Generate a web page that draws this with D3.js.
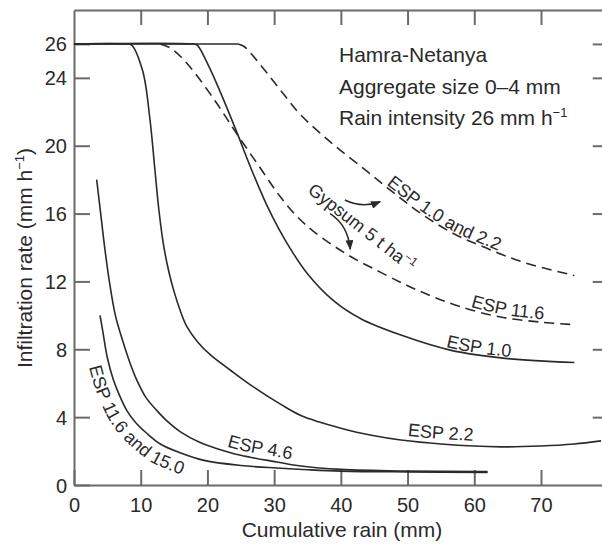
<!DOCTYPE html>
<html><head><meta charset="utf-8">
<script src="https://cdn.jsdelivr.net/npm/d3@7"></script>
<style>
body{margin:0;background:#fff}
svg{display:block;font-family:"Liberation Sans",Arial,Helvetica,sans-serif}
</style>
</head><body>
<svg id="chart" width="602" height="544"></svg>
<script>
// ---------- data ----------
const xTicks = [0, 10, 20, 30, 40, 50, 60, 70];
const yTicks = [0, 4, 8, 12, 16, 20, 24, 26];
const plateau = [[0, 26], [24.6, 26]];
const esp116and150 = [[3.9,10.0],[4.3,9.1],[5.0,7.5],[5.9,6.2],[6.8,5.3],[7.9,4.4],[9.2,3.7],[10.9,3.05],[13,2.4],[15.9,1.9],[19.5,1.45],[25,1.15],[30.4,1.0],[35,0.9],[40,0.82],[50,0.77],[62,0.74]];
const esp46 = [[3.4,18.0],[4.0,16.0],[4.6,14.0],[5.3,12.0],[6.2,10.0],[7.3,8.5],[8.3,7.3],[9.4,6.2],[10.8,5.15],[12.4,4.4],[14,3.75],[15.9,3.15],[18.9,2.5],[21,2.2],[25,1.75],[30.4,1.36],[34,1.12],[40,0.92],[50,0.82],[62,0.79]];
const esp22 = [[0,26],[7.8,26],[8.6,25.95],[10.3,24.4],[11.4,21.5],[12.1,18.7],[12.7,16.3],[13.4,14.2],[14.2,12.6],[15.0,11.4],[16.0,10.2],[16.9,9.35],[18.5,8.45],[20.5,7.65],[23.5,6.75],[27,5.75],[31,4.75],[34,4.1],[40,3.35],[45,2.9],[49,2.65],[55,2.42],[64,2.25],[70,2.3],[75,2.42],[79,2.6]];
const esp10 = [[0,26],[17.6,26],[18.4,25.95],[20,24.85],[22,23.1],[24.4,20.8],[26.6,18.6],[28.9,16.5],[30.7,15.1],[32.4,13.95],[34.9,12.5],[38.8,10.9],[43,9.8],[48.9,8.85],[56.4,7.95],[65,7.45],[75,7.22]];
const gypEsp116 = [[12.9,26],[14.5,25.75],[16,25.25],[17.9,24.4],[21.4,22.5],[24.4,20.7],[27.9,18.7],[30.9,17.0],[33.5,15.8],[35.9,14.95],[40.9,13.6],[45.9,12.55],[50,11.75],[53.8,11.1],[58,10.5],[63.9,9.9],[70,9.6],[75,9.45]];
const gypEsp10and22 = [[24.6,26],[25.5,25.85],[26.5,25.45],[28.9,24.3],[31.5,23.0],[33.9,21.85],[38.8,20.1],[43.9,18.5],[48,17.2],[52.2,15.95],[57,14.8],[61.9,13.95],[67.6,13.1],[75,12.35]];
const arrowToUpper = [[40.6,16.8],[43.2,16.3],[45.9,16.7]];
const arrowToLower = [[38.4,16.0],[41.1,15.3],[41.4,13.9]];
const infoLines = ["Hamra-Netanya", "Aggregate size 0\u20134 mm", "Rain intensity 26 mm h"];

// ---------- setup ----------
const svg = d3.select("#chart");
const x = d3.scaleLinear().domain([0, 80]).range([74, 607.7]);
const y = d3.scaleLinear().domain([0, 28]).range([485, 10]);
const ink = "#2a2a2a", frame = "#6a6a6a";

const defs = svg.append("defs");
defs.append("marker").attr("id", "ah").attr("viewBox", "0 0 10 8")
  .attr("refX", 9).attr("refY", 4).attr("markerWidth", 11).attr("markerHeight", 8)
  .attr("markerUnits", "userSpaceOnUse").attr("orient", "auto")
  .append("path").attr("d", "M0,0 L10,4 L0,8 Z").attr("fill", ink);

// ---------- axes ----------
function styleAxis(g) {
  g.selectAll(".domain").attr("stroke", frame).attr("stroke-width", 2);
  g.selectAll(".tick line").attr("stroke", frame).attr("stroke-width", 2);
  g.selectAll(".tick text").attr("fill", ink).style("font-size", "20px")
    .style("font-family", '"Liberation Sans",Arial,sans-serif');
}
svg.append("g").attr("transform", "translate(0,485)")
  .call(d3.axisBottom(x).tickValues(xTicks).tickSizeInner(-15).tickSizeOuter(0).tickPadding(13).tickFormat(d3.format("d")))
  .call(styleAxis);
svg.append("g").attr("transform", "translate(0,10)")
  .call(d3.axisTop(x).tickValues(xTicks.slice(1)).tickSizeInner(-15).tickSizeOuter(0).tickFormat(""))
  .call(styleAxis);
const yAxisG = svg.append("g").attr("transform", "translate(74,0)")
  .call(d3.axisLeft(y).tickValues(yTicks).tickSizeInner(-16).tickSizeOuter(0).tickPadding(7).tickFormat(d3.format("d")))
  .call(styleAxis);
yAxisG.selectAll(".tick text").attr("dy", "0.35em");
svg.append("g").attr("transform", "translate(607.7,0)")
  .call(d3.axisRight(y).tickValues(yTicks.slice(1)).tickSizeInner(-15).tickSizeOuter(0).tickFormat(""))
  .call(styleAxis);

// axis titles
svg.append("text").attr("x", 342).attr("y", 537).attr("text-anchor", "middle")
  .style("font-size", "21px").attr("fill", ink).text("Cumulative rain (mm)");
const yt = svg.append("text").attr("transform", "translate(32,258) rotate(-90)")
  .attr("text-anchor", "middle").style("font-size", "21px").attr("fill", ink);
yt.append("tspan").text("Infiltration rate (mm h");
yt.append("tspan").attr("dy", -8).style("font-size", "13px").text("\u22121");
yt.append("tspan").attr("dy", 8).text(")");

// info text
const info = svg.append("g").style("font-size", "21px").attr("fill", ink);
infoLines.forEach((t, i) => {
  const te = info.append("text").attr("x", 339).attr("y", 62 + i * 31.5).text(t);
  if (i === 2) te.append("tspan").attr("dy", -8).style("font-size", "13px").text("\u22121");
});

// ---------- curves ----------
const line = d3.line().x(d => x(d[0])).y(d => y(d[1])).curve(d3.curveCatmullRom.alpha(0.5));
const curves = [
  {id: "cPlat", data: plateau, dash: null},
  {id: "cA", data: esp116and150, dash: null},
  {id: "cB", data: esp46, dash: null},
  {id: "cC", data: esp22, dash: null},
  {id: "cD", data: esp10, dash: null},
  {id: "cE", data: gypEsp116, dash: "10,6"},
  {id: "cF", data: gypEsp10and22, dash: "10,6"}
];
const nodes = {};
curves.forEach(c => {
  const p = svg.append("path").attr("id", c.id).attr("d", line(c.data))
    .attr("fill", "none").attr("stroke", ink).attr("stroke-width", 1.6)
    .attr("stroke-dasharray", c.dash);
  nodes[c.id] = p.node();
});

// ---------- curve labels (text along offset paths) ----------
function labelOnCurve(cid, text, opt) {
  const node = nodes[cid];
  const L = node.getTotalLength(), N = 400;
  const raw = d3.range(N + 1).map(i => node.getPointAtLength(L * i / N));
  const off = raw.map((p, i) => {
    const a = raw[Math.max(0, i - 3)], b = raw[Math.min(N, i + 3)];
    let tx = b.x - a.x, ty = b.y - a.y; const n = Math.hypot(tx, ty) || 1;
    tx /= n; ty /= n;
    return [p.x + ty * opt.offset, p.y - tx * opt.offset];
  });
  let cum = 0, start = 0, found = false;
  for (let i = 0; i < off.length; i++) {
    if (i > 0) cum += Math.hypot(off[i][0] - off[i-1][0], off[i][1] - off[i-1][1]);
    const hit = opt.atX !== undefined ? off[i][0] >= x(opt.atX) : off[i][1] >= opt.atPy;
    if (!found && hit) { start = cum; found = true; }
  }
  const pid = cid + "lab";
  defs.append("path").attr("id", pid).attr("d", d3.line()(off));
  svg.append("text").style("font-size", "18px").attr("fill", ink)
    .append("textPath").attr("href", "#" + pid).attr("startOffset", start)
    .attr("text-anchor", opt.anchor || "middle").text(text);
}
labelOnCurve("cF", "ESP 1.0 and 2.2", {atX: 54.6, offset: 2});
labelOnCurve("cE", "ESP 11.6", {atX: 64.8, offset: 3});
labelOnCurve("cD", "ESP 1.0", {atX: 60.4, offset: 2});
labelOnCurve("cC", "ESP 2.2", {atX: 54.9, offset: 5});
labelOnCurve("cB", "ESP 4.6", {atX: 27.6, offset: 5});
labelOnCurve("cA", "ESP 11.6 and 15.0", {atPy: 366, offset: -20, anchor: "start"});

// gypsum label
const gx = x(42.6), gy = y(14.9);
const gt = svg.append("text").attr("transform", `translate(${gx},${gy}) rotate(38)`)
  .attr("text-anchor", "middle").style("font-size", "18px").attr("fill", ink);
gt.append("tspan").text("Gypsum 5 t ha");
gt.append("tspan").attr("dy", -7).style("font-size", "12px").text("\u22121");

// arrows
[arrowToUpper, arrowToLower].forEach(a => {
  const p = d3.path();
  p.moveTo(x(a[0][0]), y(a[0][1]));
  p.quadraticCurveTo(x(a[1][0]), y(a[1][1]), x(a[2][0]), y(a[2][1]));
  svg.append("path").attr("d", p.toString()).attr("fill", "none")
    .attr("stroke", ink).attr("stroke-width", 1.5).attr("marker-end", "url(#ah)");
});
</script>
</body></html>
